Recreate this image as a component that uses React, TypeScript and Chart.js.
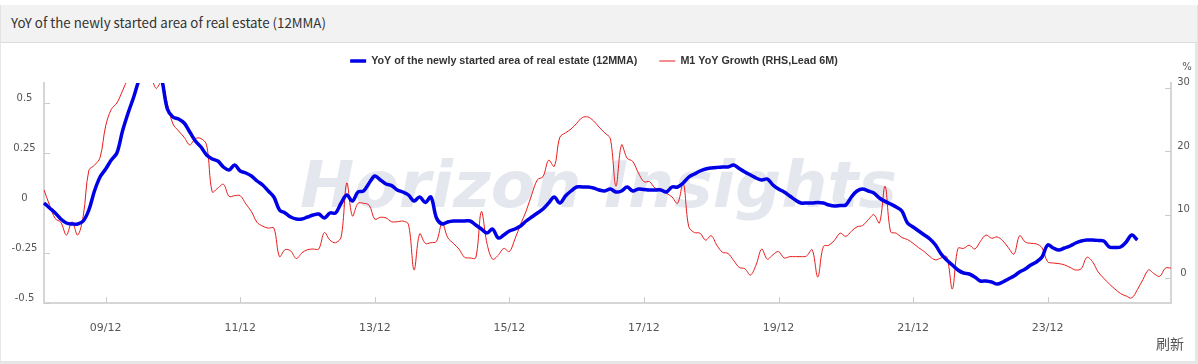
import React, { useEffect, useRef } from 'react';
import { Chart, registerables } from 'chart.js';

Chart.register(...registerables);

// Monthly categories, Jan 2009 .. Oct 2025 (YY/MM)
const START_YEAR = 2009;
const MONTH_COUNT = 202;
const months: string[] = [];
for (let i = 0; i < MONTH_COUNT; i++) {
  const y = START_YEAR + Math.floor(i / 12);
  const m = (i % 12) + 1;
  months.push(`${String(y % 100).padStart(2, '0')}/${String(m).padStart(2, '0')}`);
}

const xTickLabels = ['09/12', '11/12', '13/12', '15/12', '17/12', '19/12', '21/12', '23/12'];
const leftTicks = [-0.5, -0.25, 0, 0.25, 0.5];
const rightTicks = [0, 10, 20, 30];

const seriesNames = [
  'YoY of the newly started area of real estate (12MMA)',
  'M1 YoY Growth (RHS,Lead 6M)',
];

// YoY of newly started area (12MMA), left axis, Jan 2009 .. Apr 2025
const newStartsYoY = [
  0.0, -0.025, -0.05, -0.08, -0.10, -0.105, -0.105, -0.09, -0.035, 0.06,
  0.13, 0.17, 0.215, 0.25, 0.36, 0.45, 0.53, 0.62, 0.68, 0.72,
  0.70, 0.62, 0.47, 0.43, 0.42, 0.40, 0.355, 0.31, 0.28, 0.24,
  0.22, 0.21, 0.18, 0.165, 0.19, 0.16, 0.15, 0.135, 0.11, 0.09,
  0.06, 0.03, -0.035, -0.05, -0.07, -0.08, -0.08, -0.07, -0.06, -0.055,
  -0.075, -0.05, -0.05, 0.0, 0.04, 0.01, 0.055, 0.06, 0.10, 0.135,
  0.115, 0.095, 0.087, 0.065, 0.055, 0.04, 0.01, 0.03, 0.003, 0.03,
  -0.075, -0.105, -0.095, -0.09, -0.09, -0.09, -0.09, -0.11, -0.13, -0.15,
  -0.13, -0.175, -0.16, -0.14, -0.13, -0.115, -0.09, -0.07, -0.05, -0.03,
  0.0, 0.03, 0.0, 0.035, 0.06, 0.08, 0.08, 0.08, 0.075, 0.065,
  0.06, 0.07, 0.055, 0.06, 0.08, 0.06, 0.07, 0.068, 0.065, 0.065,
  0.065, 0.055, 0.08, 0.08, 0.10, 0.13, 0.145, 0.16, 0.17, 0.175,
  0.178, 0.18, 0.18, 0.19, 0.172, 0.155, 0.14, 0.125, 0.115, 0.12,
  0.09, 0.07, 0.055, 0.035, 0.015, 0.0, 0.0, 0.0, 0.003, 0.0,
  -0.01, -0.015, -0.012, -0.01, 0.03, 0.06, 0.07, 0.06, 0.05, 0.025,
  0.008, -0.005, -0.02, -0.04, -0.10, -0.12, -0.14, -0.16, -0.18, -0.21,
  -0.255, -0.285, -0.31, -0.335, -0.35, -0.355, -0.37, -0.39, -0.39, -0.395,
  -0.405, -0.395, -0.38, -0.365, -0.345, -0.33, -0.31, -0.295, -0.27, -0.21,
  -0.225, -0.235, -0.225, -0.215, -0.2, -0.19, -0.185, -0.185, -0.187, -0.19,
  -0.22, -0.222, -0.22, -0.195, -0.16, -0.185,
];

// M1 YoY growth (%), right axis, led 6 months, Jan 2009 .. Oct 2025
const m1YoY = [
  13.9, 11.5, 9.4, 8.8, 6.8, 8.9, 6.8, 9.8, 17.0, 17.8,
  19.0, 24.0, 26.6, 27.6, 29.5, 31.5, 33, 34, 33, 32,
  29.9, 31, 27.5, 24.3, 23.2, 22.2, 21.0, 22.0, 22.0, 21.0,
  13.6, 14.2, 14.8, 12.9, 13.0, 13.0, 11.7, 10.5, 8.8, 8.2,
  7.9, 7.9, 3.4, 4.5, 4.3, 3.1, 4.0, 4.5, 4.6, 4.6,
  7.2, 6.0, 5.6, 6.5, 15.0, 9.8, 11.8, 11.8, 11.5, 9.3,
  9.6, 9.5, 8.9, 8.9, 9.0, 8.5, 1.3, 7.0, 5.5, 5.6,
  5.8, 8.7, 6.4, 5.5, 4.6, 3.3, 3.2, 3.2, 10.5, 5.5,
  3.0, 3.6, 4.7, 4.2, 6.2, 8.5, 10.6, 13.2, 15.5, 16.0,
  18.6, 17.6, 22.2, 22.9, 23.5, 24.4, 25.3, 25.4, 24.8, 23.8,
  22.9, 22.0, 14.5, 21.0, 18.9, 18.4, 16.6, 15.2, 15.2, 14.2,
  14.1, 13.4, 12.8, 11.8, 15.0, 8.1, 7.2, 7.1, 6.0, 6.7,
  5.2, 4.1, 3.9, 2.8, 1.7, 1.5, 0.5, 2.1, 4.6, 3.0,
  3.7, 4.2, 3.2, 3.4, 3.4, 3.4, 3.5, 4.5, 0.2, 5.0,
  5.2, 6.0, 7.1, 6.6, 7.4, 8.1, 8.3, 9.2, 10.0, 8.7,
  14.5, 7.3, 7.1, 6.4, 6.1, 5.5, 4.8, 4.2, 3.4, 2.9,
  3.2, 3.4, -1.7, 4.7, 4.7, 5.2, 4.6, 5.8, 6.8, 6.3,
  6.5, 5.9, 4.8, 3.8, 6.7, 5.7, 5.5, 5.4, 4.8, 2.6,
  2.4, 2.3, 2.1, 1.7, 1.3, 1.5, 3.3, 2.6, 1.0, 0.0,
  -0.9, -1.7, -2.4, -2.8, -3.1, -1.8, -0.2, 1.3, 0.7, 0.3,
  1.6, 1.6,
];

const BLUE = '#0000e6';
const RED = '#e81c1c';
const AXIS = '#d6d6d6';
const TICK_FONT = 'DejaVu Sans';

const decorPlugin = {
  id: 'decor',
  beforeDatasetsDraw(chart: any) {
    const { ctx, chartArea, scales } = chart;
    ctx.save();
    // watermark
    ctx.font = 'italic bold 64px "DejaVu Sans"';
    ctx.fillStyle = 'rgba(208,211,226,0.55)';
    ctx.textBaseline = 'alphabetic';
    const text = 'Horizon Insights';
    const w = ctx.measureText(text).width;
    const target = 597;
    ctx.translate(300, 164);
    ctx.scale(target / w, 1);
    ctx.fillText(text, 0, 0);
    ctx.restore();

    // inward tick marks
    ctx.save();
    ctx.strokeStyle = '#cccccc';
    ctx.lineWidth = 1;
    ctx.beginPath();
    months.forEach((m, i) => {
      if (xTickLabels.includes(m)) {
        const px = Math.round(scales.x.getPixelForValue(i)) + 0.5;
        ctx.moveTo(px, chartArea.bottom);
        ctx.lineTo(px, chartArea.bottom - 6);
      }
    });
    leftTicks.forEach((v) => {
      const py = Math.round(scales.y.getPixelForValue(v)) + 0.5;
      ctx.moveTo(chartArea.left, py);
      ctx.lineTo(chartArea.left + 6, py);
    });
    rightTicks.forEach((v) => {
      const py = Math.round(scales.y1.getPixelForValue(v)) + 0.5;
      ctx.moveTo(chartArea.right - 6, py);
      ctx.lineTo(chartArea.right, py);
    });
    ctx.stroke();
    ctx.restore();
  },
  afterDraw(chart: any) {
    const { ctx, scales } = chart;
    ctx.save();
    // y-axis tick labels, centred in their axis boxes, slightly above the tick
    ctx.font = `10px "${TICK_FONT}"`;
    ctx.fillStyle = '#555';
    ctx.textAlign = 'center';
    ctx.textBaseline = 'middle';
    leftTicks.forEach((v) => {
      ctx.fillText(String(v), 24.5, scales.y.getPixelForValue(v) - 5);
    });
    rightTicks.forEach((v) => {
      ctx.fillText(String(v), 1183.5, scales.y1.getPixelForValue(v) - 5);
    });
    // unit label of the right axis
    ctx.fillText('%', 1187, 24);

    // legend
    ctx.font = 'bold 10.75px "Liberation Sans"';
    ctx.textAlign = 'left';
    const ds = chart.data.datasets;
    const sym = 16;
    const gap = 5;
    const itemGap = 22;
    const widths = ds.map((d: any) => sym + gap + ctx.measureText(d.label).width);
    const total = widths.reduce((a: number, b: number) => a + b, 0) + itemGap * (ds.length - 1);
    let x = 594 - total / 2;
    const y = 18;
    ds.forEach((d: any, i: number) => {
      ctx.strokeStyle = d.borderColor;
      ctx.lineWidth = d.borderWidth;
      ctx.beginPath();
      ctx.moveTo(x, y);
      ctx.lineTo(x + sym, y);
      ctx.stroke();
      ctx.fillStyle = '#333';
      ctx.fillText(d.label, x + sym + gap, y + 0.5);
      x += widths[i] + itemGap;
    });
    ctx.restore();
  },
};

function LineChart() {
  const ref = useRef<HTMLCanvasElement | null>(null);
  useEffect(() => {
    if (!ref.current) return;
    const chart = new Chart(ref.current, {
      type: 'line',
      data: {
        labels: months,
        datasets: [
          {
            label: seriesNames[0],
            data: newStartsYoY,
            borderColor: BLUE,
            backgroundColor: BLUE,
            borderWidth: 3.5,
            pointRadius: 0,
            tension: 0.35,
            yAxisID: 'y',
          },
          {
            label: seriesNames[1],
            data: m1YoY,
            borderColor: RED,
            backgroundColor: RED,
            borderWidth: 1,
            pointRadius: 0,
            tension: 0.35,
            yAxisID: 'y1',
          },
        ],
      },
      options: {
        responsive: false,
        animation: false,
        events: [],
        layout: { padding: { top: 40, left: 0, right: 0, bottom: 0 } },
        plugins: {
          legend: { display: false },
          tooltip: { enabled: false },
        },
        scales: {
          x: {
            type: 'category',
            offset: false,
            grid: { display: false },
            border: { display: true, color: AXIS, width: 2 },
            ticks: {
              autoSkip: false,
              maxRotation: 0,
              minRotation: 0,
              padding: 11,
              color: '#555',
              font: { family: TICK_FONT, size: 11 },
              callback: (_v: any, i: number) => (xTickLabels.includes(months[i]) ? months[i] : ''),
            },
            afterFit: (s: any) => {
              s.height = 58;
            },
          },
          y: {
            position: 'left',
            min: -0.5,
            max: 0.6,
            afterBuildTicks: (s: any) => {
              s.ticks = leftTicks.map((v) => ({ value: v }));
            },
            grid: { display: false },
            border: { display: true, color: AXIS, width: 2 },
            ticks: { display: false },
            afterFit: (s: any) => {
              s.width = 44;
            },
          },
          y1: {
            position: 'right',
            min: -3.9,
            max: 30.75,
            afterBuildTicks: (s: any) => {
              s.ticks = rightTicks.map((v) => ({ value: v }));
            },
            grid: { display: false },
            border: { display: true, color: AXIS, width: 2 },
            ticks: { display: false },
            afterFit: (s: any) => {
              s.width = 27;
            },
          },
        },
      },
      plugins: [decorPlugin],
    } as any);
    return () => chart.destroy();
  }, []);
  return <canvas ref={ref} width={1198} height={318} style={{ position: 'absolute', left: 0, top: 43 }} />;
}

export default function App() {
  return (
    <div
      style={{
        position: 'absolute',
        left: 0,
        top: 0,
        width: 1198,
        height: 364,
        background: '#fff',
        overflow: 'hidden',
      }}
    >
      <div
        style={{
          position: 'absolute',
          left: 0,
          top: 5,
          width: 1196,
          height: 37,
          background: '#f2f2f2',
          borderBottom: '1px solid #dcdcdc',
          borderLeft: '1px solid #e2e2e2',
          borderRight: '1px solid #e2e2e2',
          boxSizing: 'content-box',
        }}
      >
        <span
          style={{
            position: 'absolute',
            left: 10,
            top: 0,
            lineHeight: '35px',
            fontFamily: '"Noto Sans CJK SC", "Noto Sans", sans-serif',
            fontSize: 13.3,
            color: '#333',
            whiteSpace: 'nowrap',
          }}
        >
          YoY of the newly started area of real estate (12MMA)
        </span>
      </div>
      <LineChart />
      <div style={{ position: 'absolute', left: 0, top: 43, width: 1, height: 321, background: '#e6e6e6' }} />
      <div style={{ position: 'absolute', left: 1195, top: 43, width: 3, height: 321, background: '#e6e6e6' }} />
      <div style={{ position: 'absolute', left: 0, top: 361, width: 1198, height: 3, background: '#e6e6e6' }} />
      <span
        style={{
          position: 'absolute',
          left: 1156,
          top: 333,
          fontFamily: '"Noto Sans CJK SC", sans-serif',
          fontSize: 14,
          color: '#555',
          lineHeight: '20px',
        }}
      >
        刷新
      </span>
    </div>
  );
}
